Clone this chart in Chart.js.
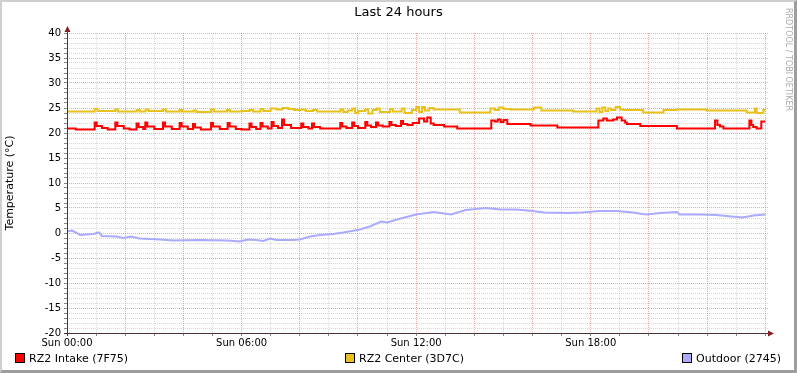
<!DOCTYPE html>
<html>
<head>
<meta charset="utf-8">
<script src="https://cdn.jsdelivr.net/npm/chart.js@4/dist/chart.umd.min.js"></script>
<style>
  body { margin: 0; background: #fff; }
  #wrap { position: relative; width: 797px; height: 373px; background: #fff; font-family: "DejaVu Sans", sans-serif; }
  #frame { position: absolute; left: 0; top: 0; width: 797px; height: 373px; box-sizing: border-box;
           border-left: 2px solid #cfcfcf; border-top: 2px solid #cfcfcf;
           border-right: 3px solid #9e9e9e; border-bottom: 3px solid #9e9e9e; pointer-events: none; }
  #title { position: absolute; left: 0; width: 797px; top: 4px; text-align: center; font-size: 13px; line-height: 16px; }
  .legend { position: absolute; top: 352px; font-size: 11px; line-height: 13px; white-space: nowrap; }
  .legend i { display: inline-block; width: 8px; height: 8px; border: 1px solid #000; margin-right: 4px; vertical-align: -1px; }
  #mark { position: absolute; left: 784px; top: 8px; font-size: 8px; color: #aaa; writing-mode: vertical-rl; }
</style>
</head>
<body>
<div id="wrap">
  <canvas id="chart" width="797" height="373"></canvas>
  <div id="title">Last 24 hours</div>
  <div class="legend" style="left:15px"><i style="background:#ff0000"></i>RZ2 Intake (7F75)</div>
  <div class="legend" style="left:345px"><i style="background:#eac11a"></i>RZ2 Center (3D7C)</div>
  <div class="legend" style="left:682px"><i style="background:#aaaaff"></i>Outdoor (2745)</div>
  <div id="mark">RRDTOOL / TOBI OETIKER</div>
  <div id="frame"></div>
</div>
<script>
// hours since Sun 00:00
const tickHours = [0, 6, 12, 18];
const tickLabels = ['Sun 00:00', 'Sun 06:00', 'Sun 12:00', 'Sun 18:00'];

const intakeHours = [0, 0.3, 0.95, 1.02, 1.2, 1.4, 1.66, 1.73, 1.95, 2.15, 2.39, 2.46, 2.62, 2.69, 2.76, 3.0,
  3.3, 3.37, 3.6, 3.87, 3.94, 4.15, 4.33, 4.4, 4.6, 4.95, 5.02, 5.25, 5.52, 5.59, 5.8, 6.0,
  6.27, 6.34, 6.5, 6.65, 6.72, 6.9, 7.03, 7.1, 7.25, 7.39, 7.46, 7.7, 8.05, 8.12, 8.3, 8.42, 8.49, 8.7,
  9.39, 9.46, 9.6, 9.8, 9.87, 10.0, 10.25, 10.32, 10.45, 10.62, 10.69, 10.85, 11.08, 11.15, 11.3,
  11.48, 11.55, 11.7, 11.88, 12.1, 12.27, 12.38, 12.5, 12.6, 12.96, 13.41, 14.58, 14.7, 14.8, 14.9,
  15.0, 15.13, 15.93, 16.85, 18.26, 18.43, 18.55, 18.77, 18.9, 19.06, 19.18, 19.24, 19.7, 20.96,
  22.27, 22.35, 22.44, 22.56, 23.45, 23.52, 23.58, 23.7, 23.86, 24.0];
const intakeValues = [20.9, 20.7, 22.1, 21.4, 21.0, 20.7, 22.1, 21.4, 20.9, 20.7, 21.9, 21.2, 20.8, 22.1, 21.3, 20.8,
  22.1, 21.3, 20.8, 22.0, 21.3, 20.8, 21.8, 21.1, 20.7, 22.0, 21.3, 20.8, 22.0, 21.3, 20.8, 20.7,
  21.9, 21.2, 20.8, 22.0, 21.3, 20.9, 22.2, 21.4, 21.0, 22.7, 21.6, 21.0, 21.9, 21.2, 20.9, 21.9, 21.2, 20.9,
  22.0, 21.3, 21.0, 22.1, 21.4, 21.0, 22.2, 21.5, 21.2, 22.1, 21.5, 21.3, 22.2, 21.6, 21.4,
  22.4, 21.8, 21.6, 22.0, 22.9, 22.3, 23.1, 21.9, 21.6, 21.3, 20.9, 22.5, 22.3, 22.7, 22.2,
  22.6, 21.8, 21.5, 21.1, 22.5, 22.9, 22.5, 22.7, 23.1, 22.5, 22.1, 21.8, 21.4, 20.9,
  22.5, 21.6, 21.3, 20.9, 22.5, 21.6, 21.2, 20.9, 22.3, 22.3];

const centerHours = [0, 0.95, 1.05, 1.66, 1.75, 2.4, 2.5, 2.7, 2.8, 3.3, 3.4, 3.87, 3.95, 4.35, 4.45, 4.95, 5.05,
  5.5, 5.6, 6.0, 6.27, 6.4, 6.65, 6.75, 7.0, 7.2, 7.4, 7.6, 7.8, 8.05, 8.2, 8.45, 8.6, 9.0, 9.4, 9.5,
  9.65, 9.8, 9.9, 10.0, 10.25, 10.35, 10.5, 10.65, 10.75, 11.1, 11.2, 11.5, 11.6, 11.85, 12.0, 12.1,
  12.2, 12.3, 12.45, 12.6, 13.5, 14.55, 14.7, 14.85, 15.0, 15.25, 16.05, 16.3, 17.4, 18.2, 18.3,
  18.4, 18.5, 18.6, 18.7, 18.85, 19.0, 19.12, 19.8, 20.5, 20.95, 21.98, 23.36, 23.64, 23.7, 23.93, 24.0];
const centerValues = [24.3, 24.8, 24.4, 24.7, 24.3, 24.6, 24.3, 24.7, 24.4, 24.7, 24.3, 24.6, 24.3, 24.5, 24.2, 24.7, 24.3,
  24.6, 24.3, 24.4, 24.6, 24.3, 24.8, 24.4, 24.9, 24.7, 25.0, 24.8, 24.6, 24.7, 24.4, 24.6, 24.3, 24.3, 24.7, 24.2,
  24.5, 24.9, 24.0, 24.4, 24.7, 23.9, 24.6, 24.9, 24.2, 24.8, 24.3, 24.9, 24.0, 24.6, 25.2, 24.2,
  25.2, 24.5, 25.0, 24.7, 24.1, 24.9, 24.6, 25.1, 24.8, 24.7, 25.1, 24.5, 24.3, 24.9, 24.2,
  25.1, 24.4, 24.9, 24.6, 25.2, 24.7, 24.6, 24.1, 24.6, 24.7, 24.5, 24.1, 24.9, 24.0, 24.6, 24.6];

const outdoorHours = [0, 0.17, 0.3, 0.45, 0.9, 1.1, 1.2, 1.7, 1.93, 2.2, 2.5, 3.2, 3.65, 4.57, 5.5, 5.95, 6.2, 6.5,
  6.75, 6.98, 7.2, 7.77, 8.0, 8.35, 8.7, 9.15, 9.5, 10.07, 10.4, 10.8, 11.0, 11.4, 12.0, 12.6, 13.2, 13.7,
  14.4, 14.9, 15.45, 16.0, 16.4, 17.2, 17.7, 18.3, 18.9, 19.45, 19.9, 20.4, 20.95, 21.06, 21.75, 22.3,
  23.2, 23.6, 24.0];
const outdoorValues = [0.3, 0.5, 0.1, -0.4, -0.2, 0.1, -0.6, -0.7, -1.0, -0.7, -1.1, -1.3, -1.5, -1.4, -1.5, -1.7, -1.3, -1.4,
  -1.6, -1.1, -1.4, -1.4, -1.3, -0.7, -0.4, -0.2, 0.1, 0.7, 1.3, 2.3, 2.1, 2.8, 3.7, 4.2, 3.7, 4.6,
  5.0, 4.7, 4.7, 4.4, 4.1, 4.0, 4.1, 4.4, 4.4, 4.1, 3.7, 4.0, 4.2, 3.7, 3.7, 3.6,
  3.1, 3.5, 3.7];

const pts = (hs, vs) => hs.map((h, i) => ({ x: h, y: vs[i] }));

const minorGrid = 'rgba(150,150,150,0.38)';
const majorGrid = 'rgba(222,80,80,0.5)';
const font = { family: 'DejaVu Sans', size: 10 };

// rrdtool style axis lines with arrow heads
const axisArrows = {
  id: 'axisArrows',
  afterDraw(chart) {
    const { ctx, chartArea: a } = chart;
    ctx.save();
    ctx.strokeStyle = '#4a3333';
    ctx.lineWidth = 1;
    ctx.beginPath();
    ctx.moveTo(a.left + 0.5, a.bottom + 3);
    ctx.lineTo(a.left + 0.5, a.top - 4);
    ctx.moveTo(a.left - 3, a.bottom + 0.5);
    ctx.lineTo(a.right + 3, a.bottom + 0.5);
    ctx.stroke();
    ctx.fillStyle = '#802020';
    ctx.beginPath();
    ctx.moveTo(a.left + 0.5, a.top - 7);
    ctx.lineTo(a.left - 2.5, a.top - 1);
    ctx.lineTo(a.left + 3.5, a.top - 1);
    ctx.fill();
    ctx.beginPath();
    ctx.moveTo(a.right + 6, a.bottom + 0.5);
    ctx.lineTo(a.right, a.bottom - 2.5);
    ctx.lineTo(a.right, a.bottom + 3.5);
    ctx.fill();
    ctx.restore();
  }
};

new Chart(document.getElementById('chart'), {
  type: 'line',
  data: {
    datasets: [
      { label: 'RZ2 Intake (7F75)', data: pts(intakeHours, intakeValues), borderColor: '#ff0000',
        borderWidth: 2, pointRadius: 0, stepped: true },
      { label: 'RZ2 Center (3D7C)', data: pts(centerHours, centerValues), borderColor: '#eac11a',
        borderWidth: 2, pointRadius: 0, stepped: true },
      { label: 'Outdoor (2745)', data: pts(outdoorHours, outdoorValues), borderColor: '#aaaaff',
        borderWidth: 2, pointRadius: 0, tension: 0 }
    ]
  },
  options: {
    responsive: false,
    animation: false,
    devicePixelRatio: 1,
    layout: { padding: { top: 33, right: 29, left: 0, bottom: 0 } },
    plugins: { legend: { display: false }, tooltip: { enabled: false } },
    scales: {
      x: {
        type: 'linear',
        min: 0,
        max: 24.09,
        afterFit: s => { s.height = 40; },
        ticks: {
          stepSize: 1, includeBounds: false, autoSkip: false, maxRotation: 0, padding: 1,
          color: '#000', font: font,
          callback: v => {
            const i = tickHours.indexOf(v);
            return i >= 0 ? tickLabels[i] : '';
          }
        },
        grid: {
          color: c => (c.tick && c.tick.value % 2 === 0) ? majorGrid : minorGrid,
          tickLength: 3, tickColor: '#888', tickBorderDash: []
        },
        border: { display: false, dash: [1, 1] }
      },
      y: {
        min: -20,
        max: 40,
        afterFit: s => { s.width = 67; },
        title: { display: true, text: 'Temperature (°C)', color: '#000',
                 font: { family: 'DejaVu Sans', size: 11 }, padding: { top: 4, bottom: 0 } },
        ticks: {
          stepSize: 1, autoSkip: false, padding: 3, color: '#000', font: font,
          callback: v => v % 5 === 0 ? String(v) : ''
        },
        grid: {
          color: c => (c.tick && c.tick.value % 5 === 0) ? majorGrid : minorGrid,
          tickLength: 3, tickColor: '#888', tickBorderDash: []
        },
        border: { display: false, dash: [1, 1] }
      }
    }
  },
  plugins: [axisArrows]
});
</script>
</body>
</html>
